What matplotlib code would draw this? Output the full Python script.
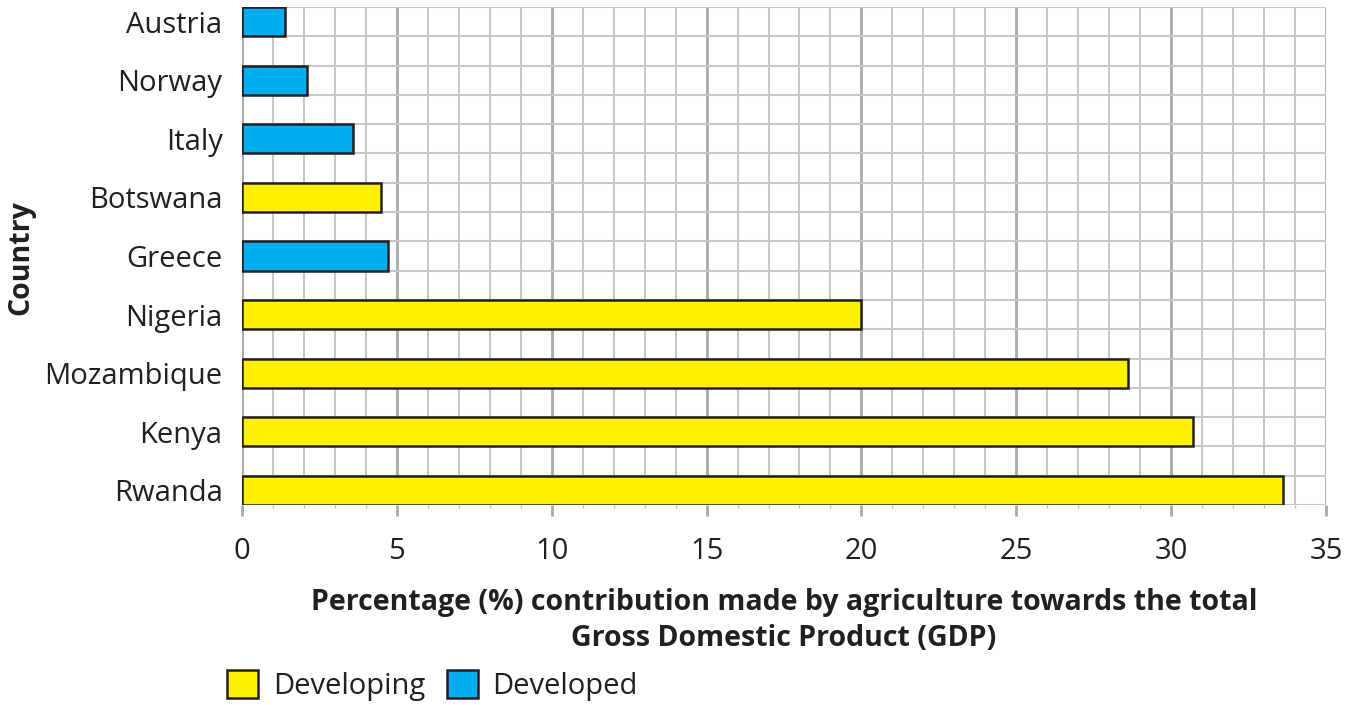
import matplotlib
matplotlib.use("Agg")
import matplotlib.pyplot as plt
from matplotlib.patches import Patch
import numpy as np

countries = ["Rwanda", "Kenya", "Mozambique", "Nigeria", "Greece", "Botswana", "Italy", "Norway", "Austria"]
values = [33.6, 30.7, 28.6, 20.0, 4.7, 4.5, 3.6, 2.1, 1.4]
groups = ["Developing", "Developing", "Developing", "Developing", "Developed",
          "Developing", "Developed", "Developed", "Developed"]
group_colors = {"Developing": "#FFF100", "Developed": "#00AEEF"}
xticks = [0, 5, 10, 15, 20, 25, 30, 35]

plt.rcParams['font.family'] = ['Open Sans', 'DejaVu Sans']

fig = plt.figure(figsize=(13.56, 7.05), dpi=100)
ax = fig.add_axes([242/1356, 1-505/705, (1326-242)/1356, (505-7)/705])

ypos = np.arange(len(countries))
colors = [group_colors[g] for g in groups]
ax.barh(ypos, values, height=0.5, color=colors, edgecolor="#231F20", linewidth=1.8, zorder=3)

ax.set_xlim(0, 35)
ax.set_ylim(-0.25, len(countries) - 0.75)
ax.set_xticks(xticks)
ax.set_xticks(np.arange(0, 36, 1), minor=True)
ax.set_yticks(ypos)
ax.set_yticklabels(countries)
ax.set_yticks(np.arange(-0.25, len(countries) - 0.5, 0.5), minor=True)

ax.grid(which="major", axis="x", color="#A7A9AC", linewidth=2.0, zorder=1)
ax.grid(which="minor", axis="x", color="#BCBEC0", linewidth=1.2, zorder=1)
ax.grid(which="minor", axis="y", color="#C7C8CA", linewidth=1.5, zorder=1)
ax.set_axisbelow(True)

for s in ax.spines.values():
    s.set_visible(False)

ax.tick_params(axis="x", which="major", length=8, width=2, color="#A7A9AC",
               labelsize=21, labelcolor="#231F20", pad=15)
ax.tick_params(axis="x", which="minor", length=2.5, width=1, color="#BCBEC0")
ax.tick_params(axis="y", which="both", length=0, labelsize=21, labelcolor="#231F20", pad=14)

ax.set_xlabel("Percentage (%) contribution made by agriculture towards the total\nGross Domestic Product (GDP)",
              fontsize=20.5, fontweight="bold", color="#231F20", labelpad=16, linespacing=1.3)
ax.set_ylabel("Country", fontsize=20.5, fontweight="bold", color="#231F20")
ax.yaxis.set_label_coords((35 - 242) / 1084, 0.497)

handles = [Patch(facecolor=group_colors["Developing"], edgecolor="#231F20", linewidth=1.8, label="Developing"),
           Patch(facecolor=group_colors["Developed"], edgecolor="#231F20", linewidth=1.8, label="Developed")]
fig.legend(handles=handles, loc="lower left", bbox_to_anchor=(227/1356, 4/705), ncol=2, frameon=False,
           fontsize=21, handlelength=1.07, handleheight=1.07, handletextpad=0.5, columnspacing=0.74,
           borderpad=0, borderaxespad=0, labelcolor="#231F20")

fig.savefig("out.png", dpi=100)
